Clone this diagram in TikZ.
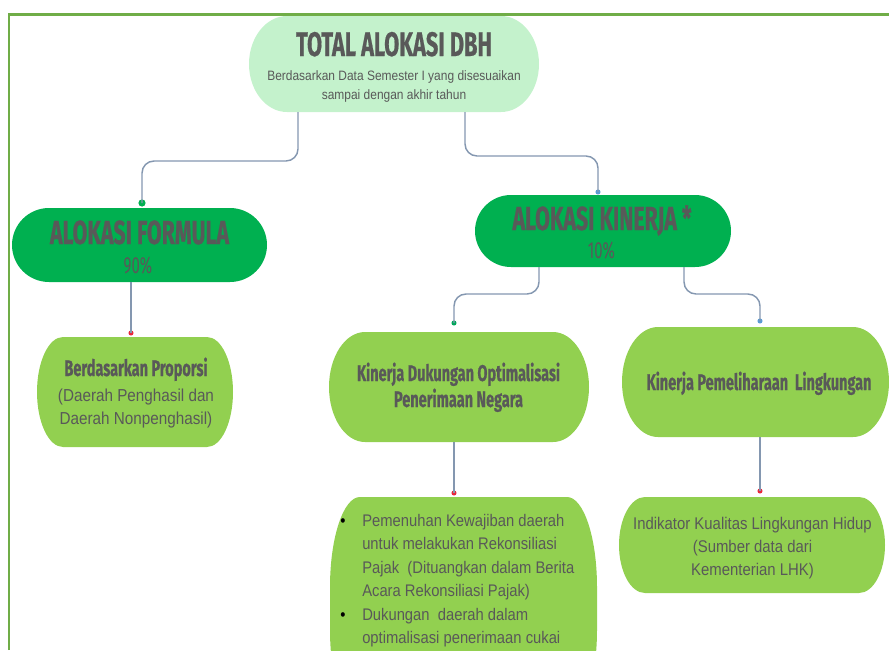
\documentclass[tikz,border=0pt]{standalone}
\usepackage{fontspec}
\usetikzlibrary{calc,backgrounds}
\newfontfamily\headfont{Fira Sans}[FakeStretch=0.64, BoldFeatures={FakeBold=0.5}]
\newfontfamily\bodyfont{Liberation Sans}[FakeStretch=0.88]
\definecolor{frameg}{HTML}{70AD47}
\definecolor{mint}{HTML}{C4F2CC}
\definecolor{dkg}{HTML}{00B050}
\definecolor{ltg}{HTML}{92D050}
\definecolor{txtc}{HTML}{595959}
\definecolor{linec}{HTML}{8497B0}
\definecolor{dotb}{HTML}{5B9BD5}
\definecolor{dotr}{HTML}{E8283C}
\definecolor{dott}{HTML}{00A65A}
\newcommand\pxu{0.75pt}
\newcommand\blobfill[4]{%
 \begin{pgfonlayer}{background}
 \fill[#4] ($(#1.north west)+(#2,0)$) -- ($(#1.north east)+(-#2,0)$)
   arc[start angle=90,end angle=0,x radius=#2,y radius=#3]
   -- ($(#1.south east)+(0,#3)$)
   arc[start angle=0,end angle=-90,x radius=#2,y radius=#3]
   -- ($(#1.south west)+(#2,0)$)
   arc[start angle=270,end angle=180,x radius=#2,y radius=#3]
   -- ($(#1.north west)+(0,-#3)$)
   arc[start angle=180,end angle=90,x radius=#2,y radius=#3]
   -- cycle;
 \end{pgfonlayer}}
\tikzset{
 box/.style={draw=none, inner sep=0pt, outer sep=0pt},
 headtxt/.style={text=txtc, inner sep=0pt, anchor=base, font=\headfont\bfseries\fontsize{#1}{#1}\selectfont},
 numtxt/.style={text=txtc, inner sep=0pt, anchor=base, font=\headfont\fontsize{#1}{#1}\selectfont},
 bodytxt/.style={text=txtc, inner sep=0pt, anchor=base, font=\bodyfont\fontsize{#1}{#1}\selectfont},
 bullettxt/.style={text=txtc, inner sep=0pt, anchor=base west, font=\bodyfont\fontsize{12.6}{12.6}\selectfont},
 bulletmark/.style={text=black, inner sep=0pt, anchor=base, font=\bodyfont\fontsize{12.6}{12.6}\selectfont},
 link/.style={draw=linec, line width=1.1pt, rounded corners=9pt},
 dotnode/.style={circle, inner sep=0pt, minimum size=3.8pt},
}
\begin{document}
\begin{tikzpicture}[x=0.75pt, y=0.75pt]
\useasboundingbox (0,0) rectangle (889,-650);
\draw[frameg, line width=1.8pt] (9,-650) -- (9,-14.5) -- (889,-14.5);

% boxes
\node[box, minimum width=290*\pxu, minimum height=96*\pxu] (top) at (394,-64) {};
\node[box, minimum width=255*\pxu, minimum height=74*\pxu] (af) at (139.5,-245) {};
\node[box, minimum width=256*\pxu, minimum height=72*\pxu] (ak) at (603,-231) {};
\node[box, minimum width=196*\pxu, minimum height=110*\pxu] (bp) at (135,-392) {};
\node[box, minimum width=260*\pxu, minimum height=110*\pxu] (kd) at (459,-387) {};
\node[box, minimum width=267*\pxu, minimum height=110*\pxu] (kp) at (755.5,-382) {};
\node[box, minimum width=267*\pxu, minimum height=223*\pxu] (bl) at (463.5,-608.5) {};
\node[box, minimum width=266*\pxu, minimum height=96*\pxu] (ind) at (752,-545) {};

\blobfill{top}{38}{48}{mint}
\blobfill{af}{37}{37}{dkg}
\blobfill{ak}{36}{36}{dkg}
\blobfill{bp}{26}{55}{ltg}
\blobfill{kd}{36}{55}{ltg}
\blobfill{kp}{36}{55}{ltg}
\blobfill{bl}{30}{90}{ltg}
\blobfill{ind}{26}{48}{ltg}

% texts
\node[headtxt=25.5] (toptitle) at (394,-56) {TOTAL ALOKASI DBH};
\node[bodytxt=10.2] (topsub1) at (394,-80.5) {Berdasarkan Data Semester I yang disesuaikan};
\node[bodytxt=10.2] (topsub2) at (394,-99) {sampai dengan akhir tahun};

\node[headtxt=25] (aft) at (139.5,-244) {ALOKASI FORMULA};
\node[numtxt=17.5] (afp) at (138,-273) {90\%};
\node[headtxt=25] (akt) at (602,-230) {ALOKASI KINERJA *};
\node[numtxt=17.5] (akp) at (601.5,-258) {10\%};

\node[headtxt=17] (bpt) at (136,-376) {Berdasarkan Proporsi};
\node[bodytxt=13] (bps1) at (136,-401) {(Daerah Penghasil dan};
\node[bodytxt=13] (bps2) at (136,-424) {Daerah Nonpenghasil)};

\node[headtxt=17] (kdt1) at (458.5,-381) {Kinerja Dukungan Optimalisasi};
\node[headtxt=17] (kdt2) at (458.5,-407) {Penerimaan Negara};
\node[headtxt=17] (kpt) at (759,-390) {Kinerja Pemeliharaan\ \ Lingkungan};

\node[bulletmark] (bm1) at (343,-526) {•};
\node[bullettxt] (bt1) at (362,-526) {Pemenuhan Kewajiban daerah};
\node[bullettxt] (bt2) at (362,-549.5) {untuk melakukan Rekonsiliasi};
\node[bullettxt] (bt3) at (362,-573) {Pajak\ \ (Dituangkan dalam Berita};
\node[bullettxt] (bt4) at (362,-596.5) {Acara Rekonsiliasi Pajak)};
\node[bulletmark] (bm2) at (343,-620) {•};
\node[bullettxt] (bt5) at (362,-620) {Dukungan\ \ daerah dalam};
\node[bullettxt] (bt6) at (362,-643.5) {optimalisasi penerimaan cukai};

\node[bodytxt=12.7] (in1) at (752.5,-529) {Indikator Kualitas Lingkungan Hidup};
\node[bodytxt=12.7] (in2) at (752.5,-552) {(Sumber data dari};
\node[bodytxt=12.7] (in3) at (752.5,-575) {Kementerian LHK)};

% dots
\node[dotnode, fill=dkg, minimum size=5.4pt] (d1) at (142,-203) {};
\node[dotnode, fill=dotb] (d2) at (598,-192) {};
\node[dotnode, fill=dott] (d3) at (454,-323) {};
\node[dotnode, fill=dotb] (d4) at (760,-321) {};
\node[dotnode, fill=dotr] (d5) at (131,-333) {};
\node[dotnode, fill=dotr] (d6) at (454,-493) {};
\node[dotnode, fill=dotr] (d7) at (760,-491) {};

% connectors
\draw[link] ($(top.south west)+(49,0)$) -- ++(0,-49) -| (d1.center);
\draw[link] ($(top.south west)+(216,0)$) -- ++(0,-44) -| (d2.center);
\draw[link] ($(ak.south west)+(64,0)$) -- ++(0,-27) -| (d3.center);
\draw[link] ($(ak.south west)+(209,0)$) -- ++(0,-27) -| (d4.center);
\draw[link] ($(af.south west)+(119,0)$) -- (d5.center);
\draw[link] ($(kd.south west)+(125,0)$) -- (d6.center);
\draw[link] ($(kp.south west)+(138,0)$) -- (d7.center);
\end{tikzpicture}
\end{document}
